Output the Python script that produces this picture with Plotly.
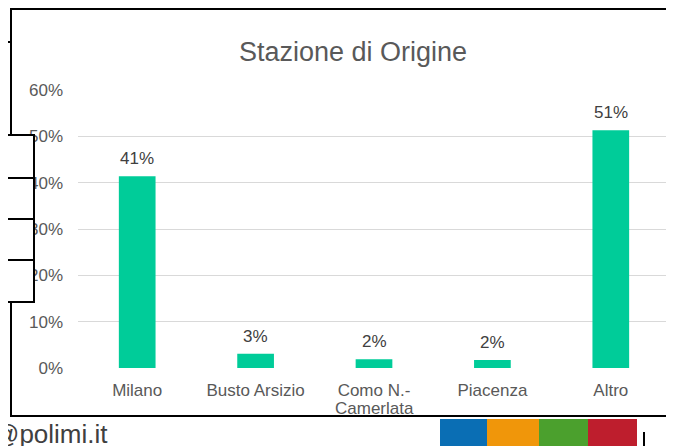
import plotly.graph_objects as go

# dati (percentuali)
categorie = ["Milano", "Busto Arsizio", "Como N.- Camerlata", "Piacenza", "Altro"]
etichette_x = ["Milano", "Busto Arsizio", "Como N.-", "Piacenza", "Altro"]
valori = [41.4, 3.1, 1.9, 1.7, 51.3]
tick_y = [0, 10, 20, 30, 40, 50, 60]
tick_y_testo = ["0%", "10%", "20%", "30%", "40%", "50%", "60%"]

# la pagina ha 8px di margine nel body: la figura parte da (8, 8)
OFF = 8
W, H = 674 - OFF, 446 - OFF
L, R, T, B = 70, 4, 82, 78  # margini in px della figura


def px_x(x):
    # coordinata x della finestra -> paper
    return (x - OFF - L) / (W - L - R)


def px_y(y):
    # coordinata y della finestra -> paper
    return (H - B - (y - OFF)) / (H - T - B)


FONT = "Liberation Sans, Arial, sans-serif"
P = dict(xref="paper", yref="paper")

fig = go.Figure()
fig.add_trace(go.Bar(
    x=categorie,
    y=valori,
    marker=dict(color="#00CC99", line=dict(width=0)),
    hoverinfo="skip",
))

# etichette dei valori sopra le barre
for c, v in zip(categorie, valori):
    fig.add_annotation(
        x=c, y=v, text=f"{v:.0f}%", showarrow=False,
        xanchor="center", yanchor="bottom", yshift=6,
        font=dict(family=FONT, size=17, color="#404040"),
    )

# seconda riga dell'etichetta di Como (interlinea più stretta)
fig.add_annotation(
    x=categorie[2], xref="x", yref="paper", y=px_y(408), text="Camerlata",
    showarrow=False, xanchor="center", yanchor="middle",
    font=dict(family=FONT, size=17, color="#595959"),
)

fig.update_layout(
    width=W, height=H,
    margin=dict(l=L, r=R, t=T, b=B),
    paper_bgcolor="white", plot_bgcolor="white",
    bargap=0.69,
    showlegend=False,
    font=dict(family=FONT, size=17, color="#595959"),
    title=dict(
        text="Stazione di Origine",
        x=(353 - OFF) / W, xanchor="center", xref="container",
        y=1 - (52 - OFF) / H, yanchor="middle", yref="container",
        font=dict(family=FONT, size=27, color="#595959"),
    ),
)

fig.update_yaxes(
    range=[0, 60], tickvals=tick_y, ticktext=tick_y_testo,
    showgrid=True, gridcolor="#D9D9D9", gridwidth=1,
    zeroline=False, showline=False, ticks="",
    ticklabelstandoff=14,
    tickfont=dict(family=FONT, size=17, color="#595959"),
)
fig.update_xaxes(
    tickvals=categorie, ticktext=etichette_x,
    showgrid=False, zeroline=False, showline=False, ticks="",
    ticklabelstandoff=10,
    tickfont=dict(family=FONT, size=17, color="#595959"),
)

# cornice del grafico e frammenti della slide sullo sfondo
shapes = [
    dict(type="rect", x0=px_x(11), x1=px_x(720), y0=px_y(9), y1=px_y(416),
         line=dict(color="black", width=2), layer="below", **P),
    dict(type="line", x0=px_x(0), x1=px_x(11), y0=px_y(42), y1=px_y(42),
         line=dict(color="black", width=2), **P),
    dict(type="line", x0=px_x(317), x1=px_x(317), y0=px_y(0), y1=px_y(9),
         line=dict(color="black", width=2), **P),
    # tabella a sinistra sovrapposta
    dict(type="rect", x0=px_x(-5), x1=px_x(34), y0=px_y(135), y1=px_y(302),
         line=dict(color="black", width=2), fillcolor="white", layer="above", **P),
]
for yy in [178, 219, 260]:
    shapes.append(dict(type="line", x0=px_x(-5), x1=px_x(34), y0=px_y(yy), y1=px_y(yy),
                       line=dict(color="black", width=2), layer="above", **P))
# blocchi colorati in basso a destra
for x0, x1, col in [(440, 487, "#0A6EB4"), (487, 539, "#F0960A"),
                    (539, 588, "#4BA02D"), (588, 637, "#BE1E2D")]:
    shapes.append(dict(type="rect", x0=px_x(x0), x1=px_x(x1), y0=px_y(419), y1=px_y(460),
                       line=dict(width=0), fillcolor=col, layer="below", **P))
shapes.append(dict(type="line", x0=px_x(644), x1=px_x(644), y0=px_y(432), y1=px_y(460),
                   line=dict(color="black", width=2), **P))
fig.update_layout(shapes=shapes)

fig.add_annotation(x=px_x(110), y=px_y(434), text="@polimi.it", showarrow=False,
                   xanchor="right", yanchor="middle",
                   font=dict(family=FONT, size=26, color="#404040"), **P)

fig.write_html("out.html")
